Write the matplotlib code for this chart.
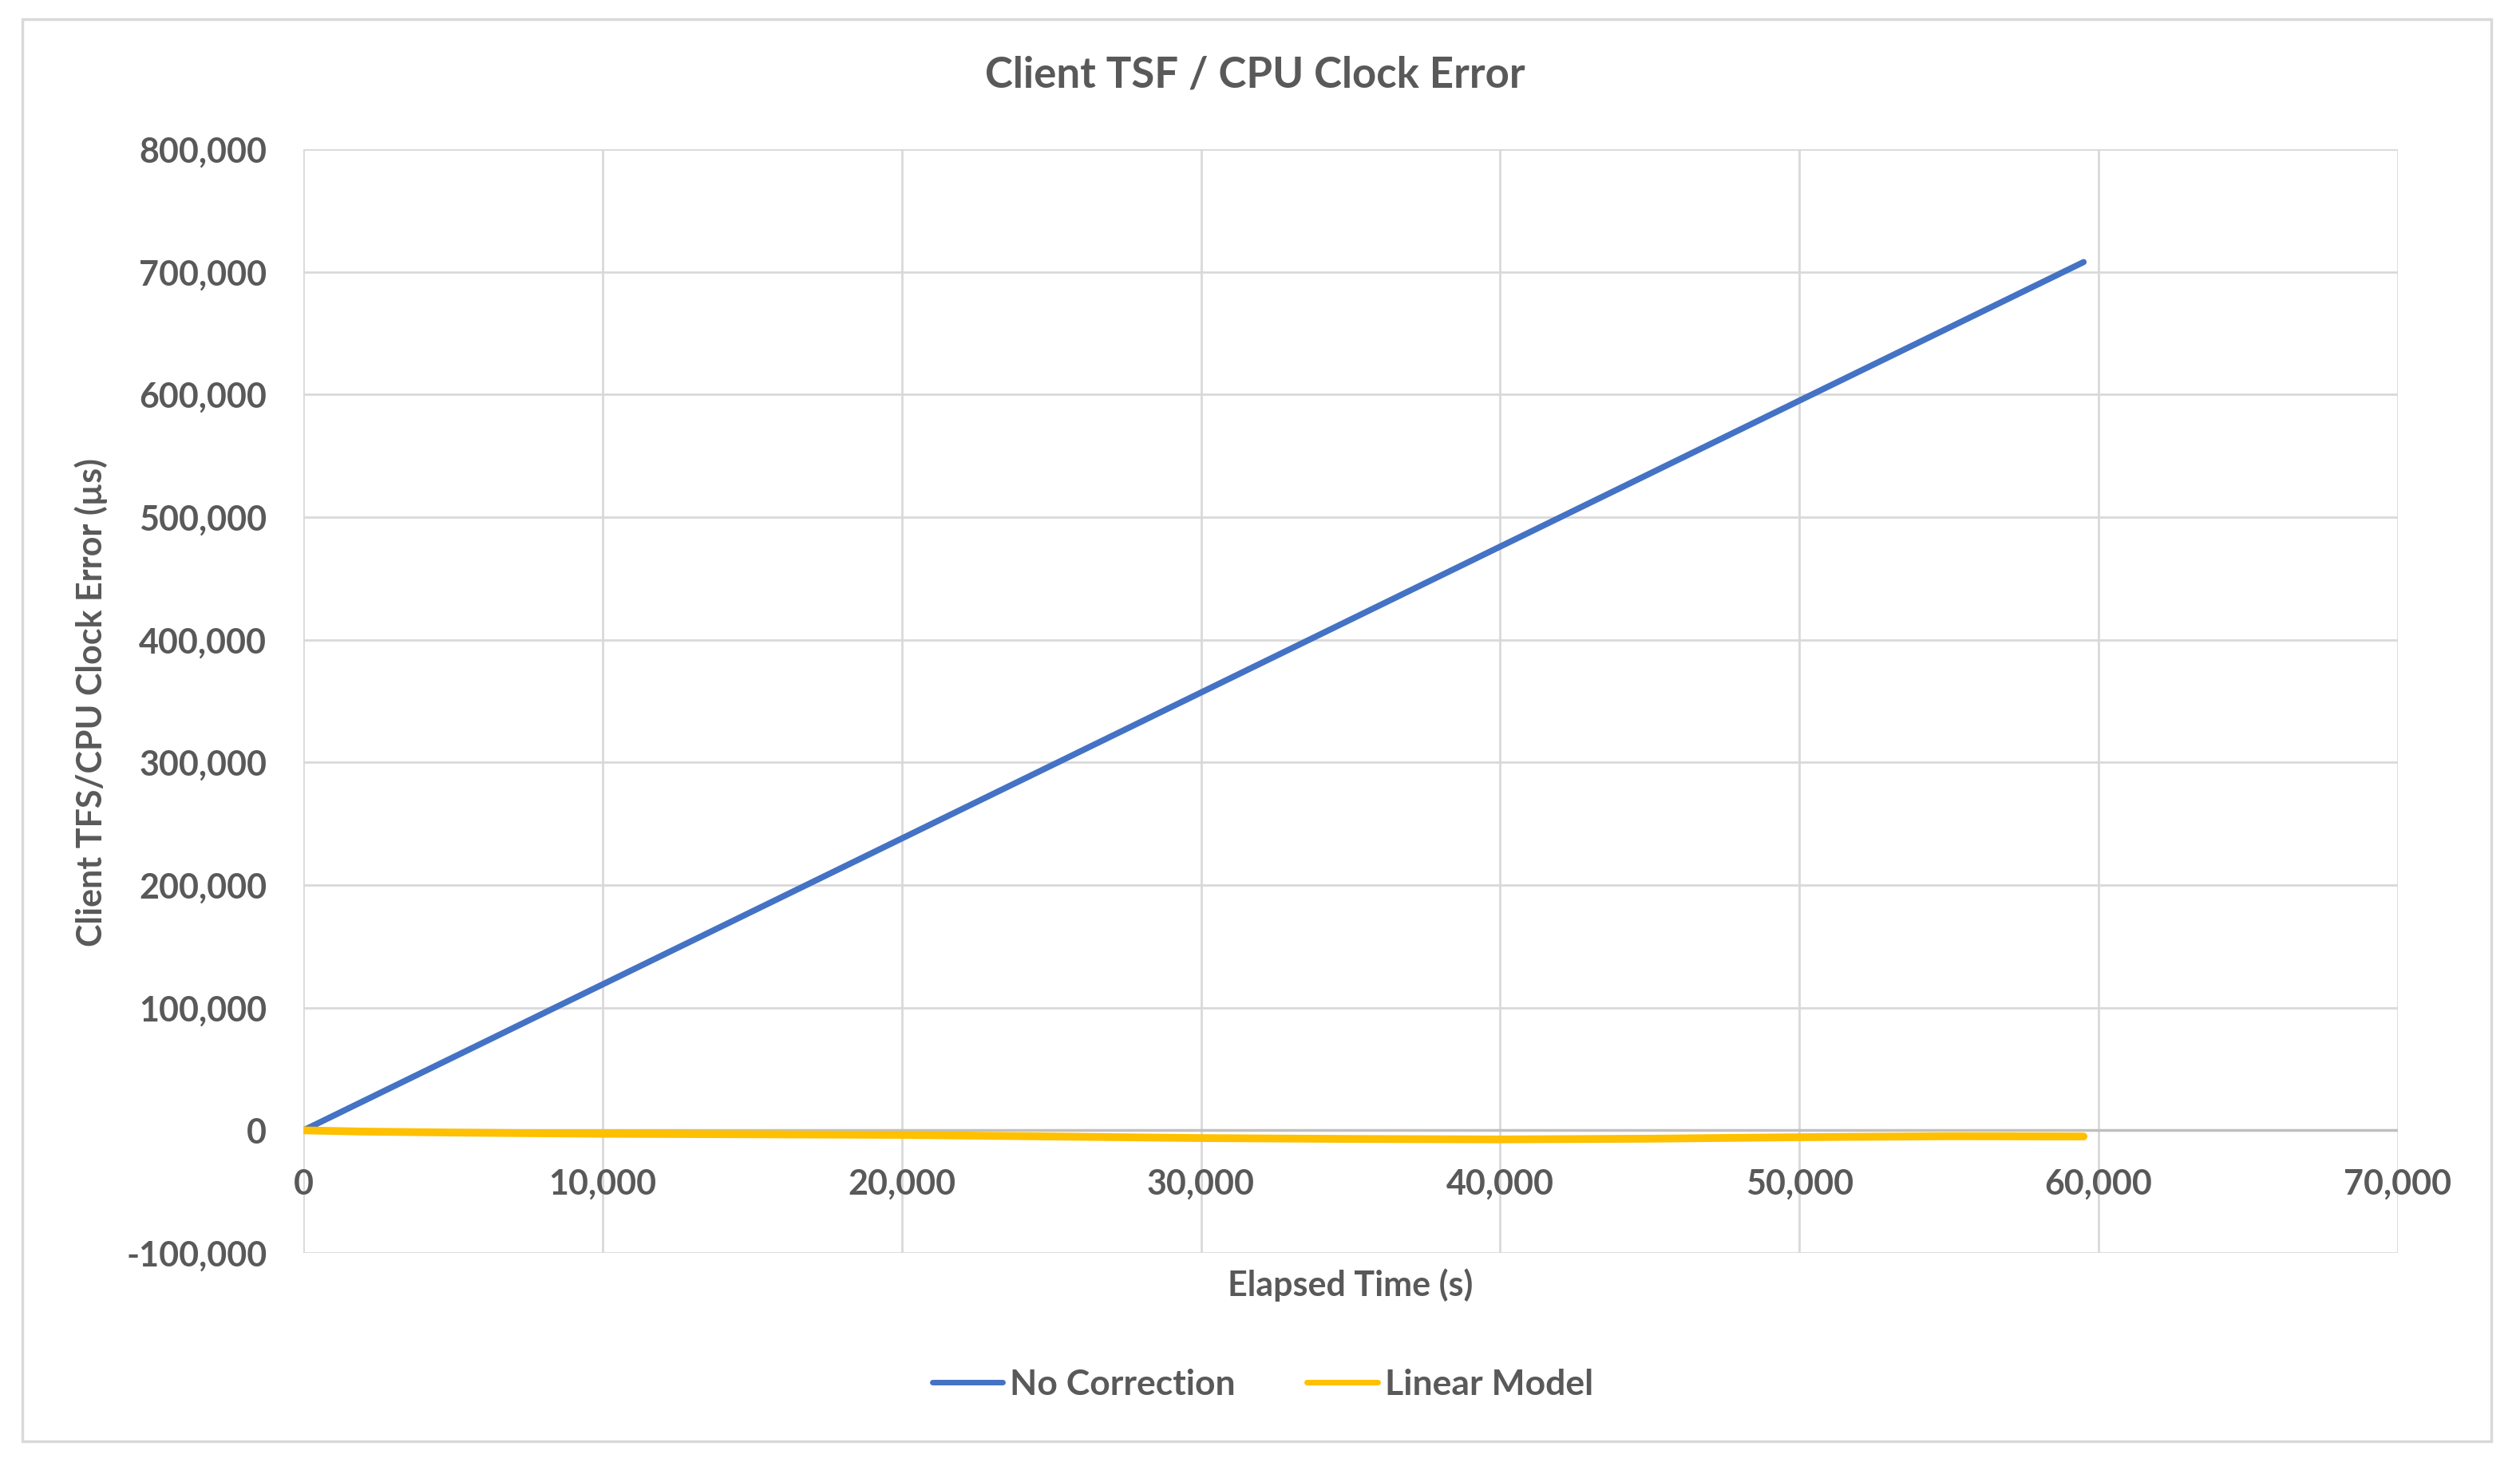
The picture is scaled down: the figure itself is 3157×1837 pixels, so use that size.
import matplotlib
matplotlib.use('Agg')
import matplotlib.pyplot as plt
from matplotlib.patches import Rectangle
from matplotlib.ticker import FuncFormatter

# data
time_nc = [0, 5000, 10000, 20000, 30000, 40000, 50000, 59500]
err_nc = [0, 59500, 119000, 238000, 357000, 476000, 595000, 708000]

time_lin = [0, 2000, 5000, 10000, 15000, 20000, 25000, 30000, 35000, 40000,
            45000, 50000, 55000, 59500]
err_lin = [0, -1000, -1800, -2800, -3200, -3700, -5000, -6300, -7000, -7400,
           -6800, -5600, -4800, -5000]

xticks = [0, 10000, 20000, 30000, 40000, 50000, 60000, 70000]
yticks = [-100000, 0, 100000, 200000, 300000, 400000, 500000, 600000, 700000, 800000]

txt = '#595959'
grid = '#D9D9D9'
plt.rcParams['font.family'] = ['Lato', 'DejaVu Sans']

fig = plt.figure(figsize=(31.57, 18.37), dpi=100)
ax = fig.add_axes([0.1204, 0.1453, 0.8311, 0.7529])

ax.plot(time_nc, err_nc, color='#4472C4', lw=5.5, solid_capstyle='round', label='No Correction', zorder=3)
ax.plot(time_lin, err_lin, color='#FFC000', lw=7, solid_capstyle='round', label='Linear Model', zorder=3)

ax.set_xlim(0, 70000)
ax.set_ylim(-100000, 800000)
ax.set_xticks(xticks)
ax.set_yticks(yticks)
ax.grid(True, color=grid, lw=2)
ax.set_axisbelow(True)
ax.axhline(0, color='#BFBFBF', lw=2.5, zorder=2)

for s in ax.spines.values():
    s.set_visible(False)
ax.spines['bottom'].set_position(('data', 0))

fmt = FuncFormatter(lambda v, p: '{:,.0f}'.format(v))
ax.xaxis.set_major_formatter(fmt)
ax.yaxis.set_major_formatter(fmt)
ax.tick_params(axis='both', length=0, labelsize=31, labelcolor=txt)
ax.tick_params(axis='x', pad=34)
ax.tick_params(axis='y', pad=33)
for lab in ax.get_xticklabels() + ax.get_yticklabels():
    lab.set_fontweight('bold')

fig.text(0.498, 0.949, 'Client TSF / CPU Clock Error', ha='center', va='center',
         fontsize=38, fontweight='bold', color=txt)
fig.text(0.5357, 0.1235, 'Elapsed Time (s)', ha='center', va='center',
         fontsize=31, fontweight='bold', color=txt)
fig.text(0.0363, 0.521, 'Client TFS/CPU Clock Error (\u00b5s)', ha='center', va='center',
         rotation=90, fontsize=31, fontweight='bold', color=txt)

leg = fig.legend(loc='center', bbox_to_anchor=(0.501, 0.0555), ncol=2, frameon=False,
                 fontsize=32, handlelength=2.0, handletextpad=0.2, columnspacing=2.0)
for t in leg.get_texts():
    t.set_color(txt)
    t.set_fontweight('bold')
for l in leg.get_lines():
    l.set_linewidth(5)

fig.patches.append(Rectangle((0.0089, 0.0169), 0.9797, 0.970, transform=fig.transFigure,
                             fill=False, edgecolor=grid, lw=2.5))

fig.savefig('out.png', dpi=100, facecolor='white')
